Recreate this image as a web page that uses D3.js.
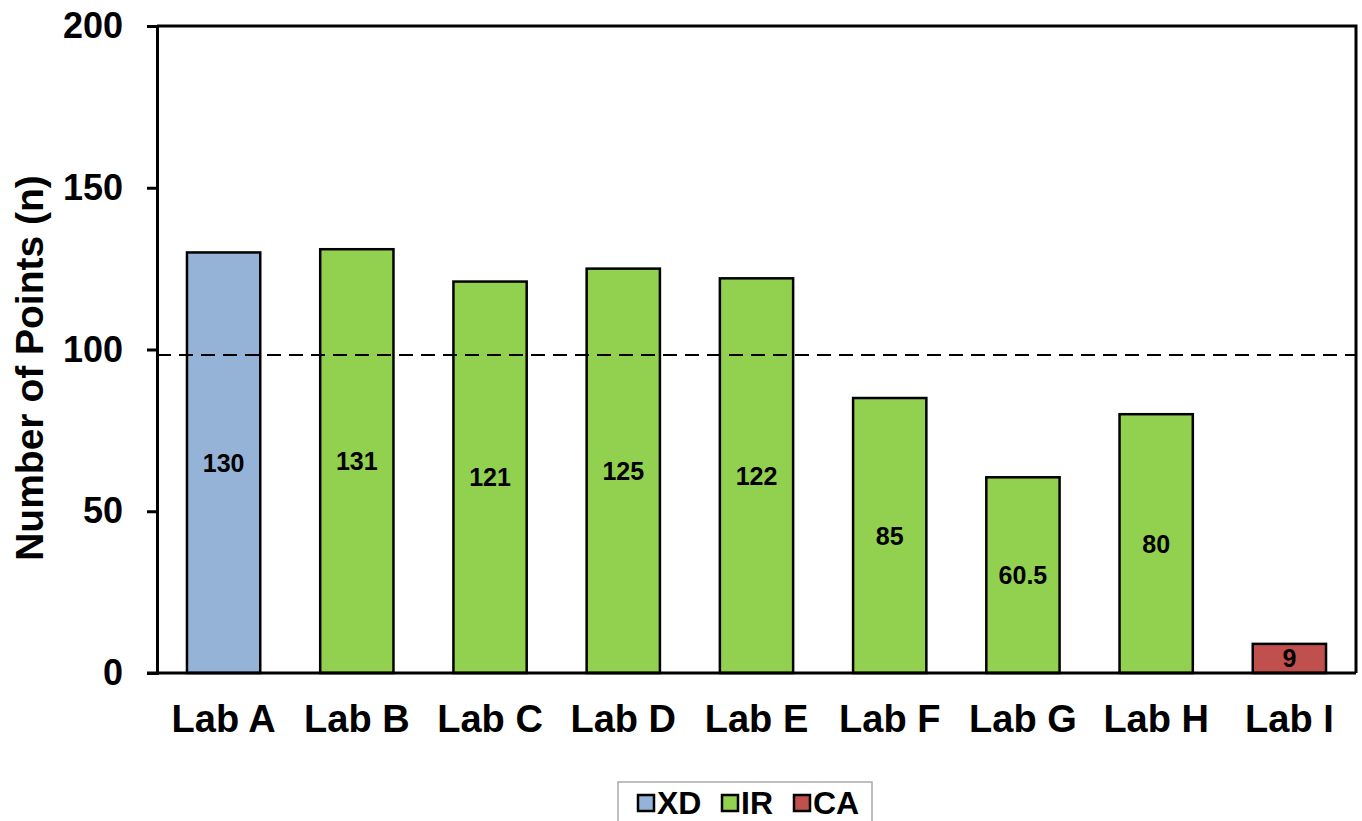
<!DOCTYPE html>
<html>
<head>
<meta charset="utf-8">
<script src="https://cdn.jsdelivr.net/npm/d3@7"></script>
<style>
  body { margin: 0; background: #fff; }
  text { font-family: "Liberation Sans", Arial, sans-serif; font-weight: bold; }
</style>
</head>
<body>
<div id="chart"></div>
<script>
// chart data
var labs = ["Lab A", "Lab B", "Lab C", "Lab D", "Lab E", "Lab F", "Lab G", "Lab H", "Lab I"];
var points = [130, 131, 121, 125, 122, 85, 60.5, 80, 9];
var methods = ["XD", "IR", "IR", "IR", "IR", "IR", "IR", "IR", "CA"];
var legendKeys = ["XD", "IR", "CA"];
var yTicks = [0, 50, 100, 150, 200];
var refLine = 98.3;

var colors = {XD: "#95b3d7", IR: "#92d050", CA: "#c0504d"};

var width = 1362, height = 821;
var margin = {top: 26, right: 6, bottom: 148, left: 157};

var svg = d3.select("#chart").append("svg")
    .attr("width", width)
    .attr("height", height);

var x = d3.scaleBand()
    .domain(labs)
    .range([margin.left, width - margin.right])
    .paddingInner(0.45)
    .paddingOuter(0.225);

var y = d3.scaleLinear()
    .domain([0, 200])
    .range([height - margin.bottom, margin.top]);

var data = labs.map(function (d, i) {
    return {lab: d, value: points[i], method: methods[i]};
});

// frame top and right
svg.append("path")
    .attr("d", "M" + margin.left + "," + y(200) + "H" + (width - margin.right) + "V" + y(0))
    .attr("fill", "none")
    .attr("stroke", "#000")
    .attr("stroke-width", 3);

// bars
svg.selectAll("rect.bar")
    .data(data)
    .enter().append("rect")
    .attr("class", "bar")
    .attr("x", function (d) { return x(d.lab); })
    .attr("y", function (d) { return y(d.value); })
    .attr("width", x.bandwidth())
    .attr("height", function (d) { return y(0) - y(d.value); })
    .attr("fill", function (d) { return colors[d.method]; })
    .attr("stroke", "#000")
    .attr("stroke-width", 2.5);

// value labels, centered in bar
svg.selectAll("text.val")
    .data(data)
    .enter().append("text")
    .attr("class", "val")
    .attr("x", function (d) { return x(d.lab) + x.bandwidth() / 2; })
    .attr("y", function (d) { return (y(d.value) + y(0)) / 2; })
    .attr("dy", "0.36em")
    .attr("text-anchor", "middle")
    .style("font-size", "25px")
    .text(function (d) { return d.value; });

// dashed reference line
svg.append("line")
    .attr("x1", margin.left)
    .attr("x2", width - margin.right)
    .attr("y1", y(refLine))
    .attr("y2", y(refLine))
    .attr("stroke", "#000")
    .attr("stroke-width", 1.8)
    .attr("stroke-dasharray", "14,8");

// y axis
var yAxis = svg.append("g")
    .attr("transform", "translate(" + margin.left + ",0)")
    .call(d3.axisLeft(y).tickValues(yTicks).tickSize(10).tickPadding(24));
yAxis.select(".domain").attr("stroke-width", 3);
yAxis.selectAll(".tick line").attr("stroke-width", 3);
yAxis.selectAll(".tick text").style("font-size", "36px").attr("fill", "#000");

// x axis
var xAxis = svg.append("g")
    .attr("transform", "translate(0," + y(0) + ")")
    .call(d3.axisBottom(x).tickSize(0).tickPadding(32));
xAxis.select(".domain")
    .attr("d", "M" + (margin.left - 10) + ",0H" + (width - margin.right))
    .attr("stroke-width", 3);
xAxis.selectAll(".tick text").style("font-size", "38px").attr("fill", "#000");

// y title
svg.append("text")
    .attr("transform", "translate(43," + 368 + ") rotate(-90)")
    .attr("text-anchor", "middle")
    .style("font-size", "39px")
    .text("Number of Points (n)");

// legend
var legend = svg.append("g").attr("transform", "translate(618,782)");
legend.append("rect")
    .attr("width", 254)
    .attr("height", 50)
    .attr("fill", "#fff")
    .attr("stroke", "#aaa")
    .attr("stroke-width", 1.5);

var legendX = [20, 104, 176];
var items = legend.selectAll("g.item")
    .data(legendKeys)
    .enter().append("g")
    .attr("class", "item")
    .attr("transform", function (d, i) { return "translate(" + legendX[i] + ",0)"; });
items.append("rect")
    .attr("x", 0)
    .attr("y", 13)
    .attr("width", 16)
    .attr("height", 16)
    .attr("fill", function (d) { return colors[d]; })
    .attr("stroke", "#000")
    .attr("stroke-width", 2.5);
items.append("text")
    .attr("x", 19)
    .attr("y", 32)
    .style("font-size", "32px")
    .text(function (d) { return d; });
</script>
</body>
</html>
